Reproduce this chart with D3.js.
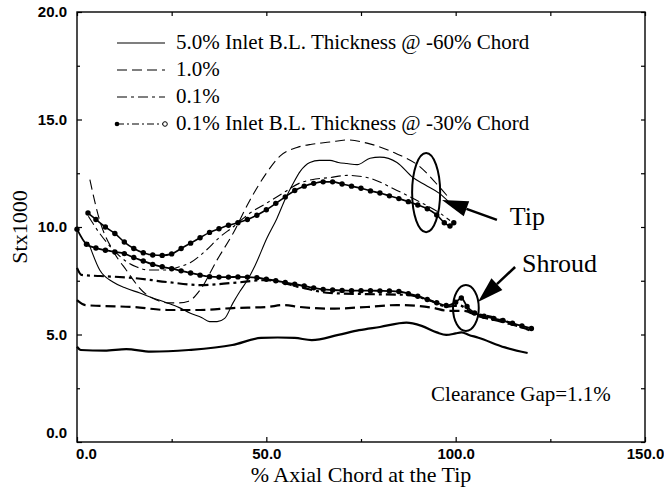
<!DOCTYPE html>
<html>
<head>
<meta charset="utf-8">
<script src="https://cdn.jsdelivr.net/npm/d3@7"></script>
<style>
body { margin: 0; background: #fff; }
svg { display: block; }
</style>
</head>
<body>
<svg id="chart" width="664" height="487"></svg>
<script>
// values, [% axial chord, Stx1000]
var tipSolid = [[3,9.3],[6,8.0],[9.5,7.44],[13,7.15],[16.6,6.93],[20,6.7],[23.8,6.47],[27,6.25],[29.8,6.0],[33,5.78],[35,5.6],[37,5.6],[39,5.75],[41.2,6.47],[43,7.0],[44.9,7.5],[47,8.2],[50.2,9.5],[52.8,10.4],[55,11.3],[57,12.0],[59,12.6],[61.5,13.0],[64,13.1],[66.8,13.1],[69,13.0],[71.3,12.95],[74,12.9],[77.4,13.2],[80,13.25],[84.5,13.0],[88.7,12.3],[92,11.95],[95.8,11.55],[98,11.2]];
var tipDash = [[3.4,12.2],[6,10.3],[9.5,8.9],[13,8.0],[17.4,7.0],[21,6.6],[24,6.47],[27,6.47],[29.5,6.55],[32.5,7.07],[37,8.47],[41.2,9.7],[45.7,11.26],[50,12.5],[53.6,13.3],[58.1,13.7],[62,13.85],[66.8,13.95],[71.3,14.05],[76.6,13.9],[84.5,13.4],[90.6,12.8],[95,12.0],[98,11.4]];
var tipDashDot = [[3,10.5],[6,9.7],[9.5,8.95],[13,8.4],[15.8,8.14],[19,8.0],[23.8,8.0],[27,8.15],[30,8.35],[34,8.9],[37.5,9.5],[41.2,10.0],[45.7,10.65],[50,11.1],[54.4,11.58],[58.9,12.05],[62,12.2],[66.8,12.3],[71.3,12.4],[76.6,12.3],[84.5,11.7],[90.6,11.16],[95.8,10.65],[98.5,10.3]];
var tipDot = [[2.9,10.65],[5,10.35],[7.5,10.0],[10,9.7],[12.5,9.3],[15,9.0],[17.5,8.8],[20,8.7],[22.5,8.68],[25,8.75],[27.5,9.0],[30,9.25],[32.5,9.5],[35,9.75],[37.5,9.92],[40,10.08],[42.5,10.2],[45,10.35],[47.5,10.55],[50,10.8],[52.5,11.1],[55,11.4],[57.5,11.7],[60,11.9],[62.5,12.03],[65,12.1],[67.5,12.1],[70,12.0],[72.5,11.9],[75,11.8],[77.5,11.68],[80,11.58],[82.5,11.45],[85,11.32],[87.5,11.18],[90,11.02],[92.5,10.85],[95,10.56],[97,10.2],[98.5,10.05],[99.5,10.2]];

var shroudSolid = [[0,4.43],[1,4.28],[7.3,4.25],[13,4.32],[19.5,4.2],[29.5,4.28],[41,4.51],[48.6,4.84],[53,4.86],[57.5,4.84],[62,4.74],[69,4.98],[74.5,5.2],[80,5.35],[87,5.55],[91,5.4],[95,5.1],[97.5,4.98],[100,5.05],[101.5,5.1],[103.5,4.98],[106,4.85],[113,4.4],[119,4.14]];
var shroudDash = [[0,6.6],[2.2,6.37],[6.1,6.33],[14.8,6.28],[23.8,6.14],[32.5,6.14],[41.2,6.23],[50.2,6.28],[54.4,6.37],[58.9,6.28],[66.8,6.2],[76.6,6.28],[84.5,6.37],[93.8,6.25],[98,6.1],[102,6.1],[106,5.85],[112,5.6],[119,5.25]];
var shroudDashDot = [[0,8.1],[1.2,7.77],[6.1,7.72],[14.8,7.63],[23.8,7.44],[32.5,7.3],[41.2,7.4],[50.2,7.53],[58.9,7.2],[66.8,6.93],[76.6,6.88],[87.2,6.84],[93,6.6],[97.7,6.3],[101,6.35],[104,6.05],[110,5.8],[119.5,5.2]];
var shroudDot = [[0,9.9],[2.5,9.2],[5,9.02],[7.5,8.92],[10,8.84],[12.5,8.76],[15,8.58],[17.5,8.42],[20,8.26],[22.5,8.15],[25,8.06],[27.5,7.96],[30,7.86],[32.5,7.76],[35,7.69],[37.5,7.67],[40,7.67],[42.5,7.68],[45,7.67],[47.5,7.64],[50,7.57],[52.5,7.5],[55,7.42],[57.5,7.34],[60,7.26],[62.5,7.17],[65,7.1],[67.5,7.07],[70,7.05],[72.5,7.04],[75,7.04],[77.5,7.04],[80,7.03],[82.5,7.02],[85,7.0],[87.5,6.9],[90,6.78],[92.5,6.63],[95,6.48],[97.5,6.35],[100,6.5],[101.5,6.7],[103,6.3],[105,6.0],[107.5,5.85],[110,5.75],[112.5,5.65],[115,5.52],[117.5,5.4],[120,5.28]];

var xMajor = [0, 50, 100, 150];
var xMinor = [25, 75, 125];
var yMajor = [0, 5, 10, 15, 20];
var yMinor = [2.5, 7.5, 12.5, 17.5];

var legendLabels = ["5.0% Inlet B.L. Thickness @ -60% Chord", "1.0%", "0.1%", "0.1% Inlet B.L. Thickness @ -30% Chord"];

var svg = d3.select("#chart");
var x = d3.scaleLinear().domain([0, 150]).range([77, 645]);
var y = d3.scaleLinear().domain([0, 20]).range([442, 12]);

var serif = "'Liberation Serif', 'DejaVu Serif', 'Times New Roman', serif";
var sans = "'Liberation Sans', Arial, sans-serif";

// line styles for the four cases
var styles = [
	{dash: null},
	{dash: "10,5"},
	{dash: "10,4,3,4"},
	{dash: null, dots: true}
];

var line = d3.line()
	.x(function (d) { return x(d[0]); })
	.y(function (d) { return y(d[1]); })
	.curve(d3.curveMonotoneX);

var tips = [tipSolid, tipDash, tipDashDot, tipDot];
var shrouds = [shroudSolid, shroudDash, shroudDashDot, shroudDot];

function drawSeries(data, st, width) {
	svg.append("path")
		.datum(data)
		.attr("fill", "none")
		.attr("stroke", "#000")
		.attr("stroke-width", width)
		.attr("stroke-dasharray", st.dash)
		.attr("d", line);
	if (st.dots) {
		svg.append("g").selectAll("circle")
			.data(data)
			.enter().append("circle")
			.attr("cx", function (d) { return x(d[0]); })
			.attr("cy", function (d) { return y(d[1]); })
			.attr("r", 2.7)
			.attr("fill", "#000");
	}
}

tips.forEach(function (d, i) { drawSeries(d, styles[i], i == 3 ? 1.6 : 1.1); });
shrouds.forEach(function (d, i) { drawSeries(d, styles[i], i == 3 ? 1.8 : 2.2); });

// axes, ticks pointing in
var fmt = d3.format(".1f");
var bottom = svg.append("g").attr("transform", "translate(0,442)")
	.call(d3.axisBottom(x).tickValues(xMajor).tickSize(-5).tickSizeOuter(0).tickPadding(6).tickFormat(fmt));
svg.append("g").attr("transform", "translate(0,442)")
	.call(d3.axisBottom(x).tickValues(xMinor).tickSize(-3).tickSizeOuter(0).tickFormat(""));
svg.append("g").attr("transform", "translate(0,12)")
	.call(d3.axisTop(x).tickValues(xMajor.concat(xMinor)).tickSize(-4).tickSizeOuter(0).tickFormat(""));
var left = svg.append("g").attr("transform", "translate(77,0)")
	.call(d3.axisLeft(y).tickValues(yMajor).tickSize(-5).tickSizeOuter(0).tickPadding(10).tickFormat(fmt));
svg.append("g").attr("transform", "translate(77,0)")
	.call(d3.axisLeft(y).tickValues(yMinor).tickSize(-3).tickSizeOuter(0).tickFormat(""));
svg.append("g").attr("transform", "translate(645,0)")
	.call(d3.axisRight(y).tickValues(yMajor.concat(yMinor)).tickSize(-4).tickSizeOuter(0).tickFormat(""));

svg.selectAll(".domain").remove();
svg.selectAll(".tick line").attr("stroke", "#000").attr("stroke-width", 1.2);
svg.selectAll(".tick text")
	.attr("fill", "#000")
	.style("font-family", sans)
	.style("font-weight", "bold")
	.style("font-size", "15px");
bottom.selectAll(".tick text").filter(function (d) { return d === 0; }).attr("dx", 9);
left.selectAll(".tick text").filter(function (d) { return d === 0; }).attr("dy", "-0.28em");

svg.append("rect")
	.attr("x", x(0)).attr("y", y(20))
	.attr("width", x(150) - x(0)).attr("height", y(0) - y(20))
	.attr("fill", "none").attr("stroke", "#000").attr("stroke-width", 1.4);

// axis titles
svg.append("text")
	.attr("x", (x(0) + x(150)) / 2).attr("y", 482)
	.attr("text-anchor", "middle")
	.style("font-family", serif).style("font-size", "22px")
	.text("% Axial Chord at the Tip");
svg.append("text")
	.attr("transform", "translate(27," + y(10) + ") rotate(-90)")
	.attr("text-anchor", "middle")
	.style("font-family", serif).style("font-size", "22px")
	.text("Stx1000");

// legend
var leg = svg.append("g");
legendLabels.forEach(function (lab, i) {
	var ly = 43 + i * 27;
	leg.append("line")
		.attr("x1", 117).attr("x2", 165).attr("y1", ly).attr("y2", ly)
		.attr("stroke", "#000").attr("stroke-width", 1.2)
		.attr("stroke-dasharray", i == 3 ? "7,3,2,3" : styles[i].dash);
	if (i == 3) {
		leg.append("circle").attr("cx", 117).attr("cy", ly).attr("r", 2.3).attr("fill", "#000");
		leg.append("circle").attr("cx", 165).attr("cy", ly).attr("r", 2.3).attr("fill", "#fff").attr("stroke", "#000");
	}
	leg.append("text")
		.attr("x", 176).attr("y", ly + 6)
		.style("font-family", serif).style("font-size", "21px")
		.text(lab);
});

// annotations
var ellipses = [[92.2, 11.6, 3.7, 1.84], [102.7, 6.23, 3.4, 1.07]];
ellipses.forEach(function (e) {
	svg.append("ellipse")
		.attr("cx", x(e[0])).attr("cy", y(e[1]))
		.attr("rx", x(e[2]) - x(0)).attr("ry", y(0) - y(e[3]))
		.attr("fill", "none").attr("stroke", "#000").attr("stroke-width", 2);
});

var arrows = [[110.9, 10.33, 96.4, 11.26], [115.7, 8.14, 105.9, 6.51]];
arrows.forEach(function (a) {
	var x1 = x(a[0]), y1 = y(a[1]), x2 = x(a[2]), y2 = y(a[3]);
	var ang = Math.atan2(y2 - y1, x2 - x1);
	var len = 26, hw = 8;
	var bx = x2 - len * Math.cos(ang), by = y2 - len * Math.sin(ang);
	svg.append("line")
		.attr("x1", x1).attr("y1", y1).attr("x2", bx).attr("y2", by)
		.attr("stroke", "#000").attr("stroke-width", 2.5);
	var pts = [[x2, y2],
		[bx + hw * Math.sin(ang), by - hw * Math.cos(ang)],
		[bx - hw * Math.sin(ang), by + hw * Math.cos(ang)]];
	svg.append("polygon")
		.attr("points", pts.map(function (p) { return p.join(","); }).join(" "))
		.attr("fill", "#000");
});

svg.append("text").attr("x", x(114.3)).attr("y", y(10.1))
	.style("font-family", serif).style("font-size", "26px").text("Tip");
svg.append("text").attr("x", x(117.5)).attr("y", y(7.9))
	.style("font-family", serif).style("font-size", "26px").text("Shroud");
svg.append("text").attr("x", x(93.5)).attr("y", y(1.9))
	.style("font-family", serif).style("font-size", "21px").text("Clearance Gap=1.1%");
</script>
</body>
</html>
